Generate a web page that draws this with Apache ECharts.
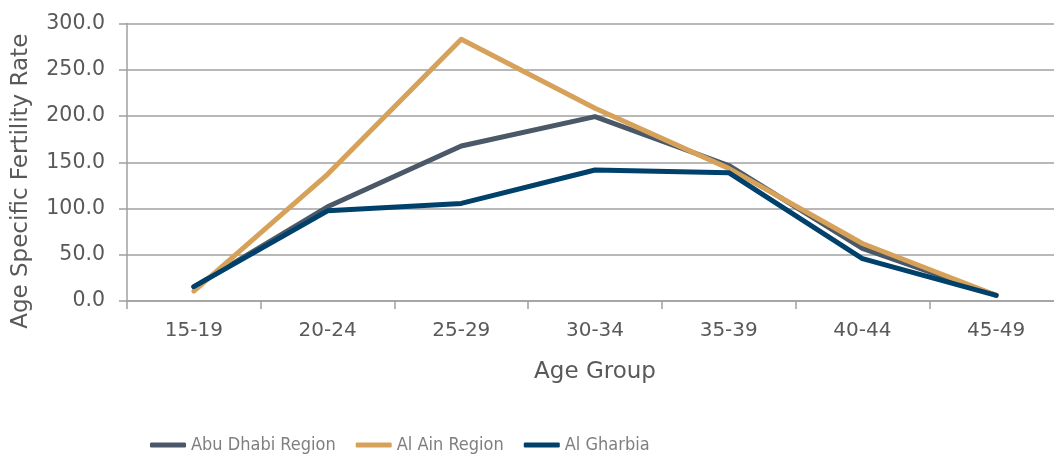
<!DOCTYPE html>
<html>
<head>
<meta charset="utf-8">
<script src="https://cdn.jsdelivr.net/npm/echarts@6/dist/echarts.min.js"></script>
<style>
html,body{margin:0;padding:0;background:#fff;overflow:hidden;}
#chart{width:1063px;height:457px;}
</style>
</head>
<body>
<div id="chart"></div>
<script>
const categories = ['15-19','20-24','25-29','30-34','35-39','40-44','45-49'];
const abuDhabi = [15.2, 101.8, 167.5, 199.3, 146.5, 56.8, 6.2];
const alAin = [10.8, 137.0, 283.0, 208.4, 143.4, 62.2, 6.2];
const alGharbia = [15.6, 97.5, 105.5, 141.6, 138.7, 45.9, 6.0];
const yTicks = [0, 50, 100, 150, 200, 250, 300];

const FONT = 'DejaVu Sans';
const chart = echarts.init(document.getElementById('chart'), null, {renderer:'canvas'});
chart.setOption({
  animation: false,
  backgroundColor: '#ffffff',
  grid: { left: 127, top: 23.5, right: 0, height: 277.5, containLabel: false },
  legend: {
    left: 145, top: 431, itemWidth: 36, itemHeight: 5, itemGap: 20,
    icon: 'roundRect',
    textStyle: { color: '#7f7f7f', fontFamily: "'Liberation Sans Narrow', 'DejaVu Sans Condensed', 'DejaVu Sans'", fontSize: 18 },
    data: ['Abu Dhabi Region', 'Al Ain Region', 'Al Gharbia']
  },
  xAxis: {
    type: 'category', data: categories, boundaryGap: true,
    name: 'Age Group', nameLocation: 'middle', nameGap: 60,
    nameTextStyle: { color: '#595959', fontFamily: FONT, fontSize: 23 },
    axisLine: { show: true, lineStyle: { color: '#a0a0a0', width: 1.5 } },
    axisTick: { show: true, length: 8, lineStyle: { color: '#a0a0a0', width: 1.5 } },
    axisLabel: { color: '#595959', fontFamily: FONT, fontSize: 20, margin: 20 },
    splitLine: { show: false }
  },
  yAxis: {
    type: 'value', min: 0, max: 300, interval: 50,
    name: 'Age Specific Fertility Rate', nameLocation: 'middle', nameGap: 94, nameRotate: 90,
    nameTextStyle: { color: '#595959', fontFamily: FONT, fontSize: 23, padding: [0, 38, 0, 0] },
    axisLine: { show: true, lineStyle: { color: '#a0a0a0', width: 1.5 } },
    axisTick: { show: true, length: 8, lineStyle: { color: '#a0a0a0', width: 1.5 } },
    axisLabel: { color: '#595959', fontFamily: FONT, fontSize: 20.5, margin: 22,
      formatter: v => yTicks.includes(v) ? v.toFixed(1) : '' },
    splitLine: { show: true, lineStyle: { color: '#a0a0a0', width: 1.5 } }
  },
  series: [
    { name: 'Abu Dhabi Region', type: 'line', data: abuDhabi, symbol: 'none',
      lineStyle: { color: '#4a5868', width: 5, cap: 'round', join: 'round' }, itemStyle: { color: '#4a5868' } },
    { name: 'Al Ain Region', type: 'line', data: alAin, symbol: 'none',
      lineStyle: { color: '#d6a25a', width: 5, cap: 'round', join: 'round' }, itemStyle: { color: '#d6a25a' } },
    { name: 'Al Gharbia', type: 'line', data: alGharbia, symbol: 'none',
      lineStyle: { color: '#00416b', width: 5, cap: 'round', join: 'round' }, itemStyle: { color: '#00416b' } }
  ]
});
</script>
</body>
</html>
